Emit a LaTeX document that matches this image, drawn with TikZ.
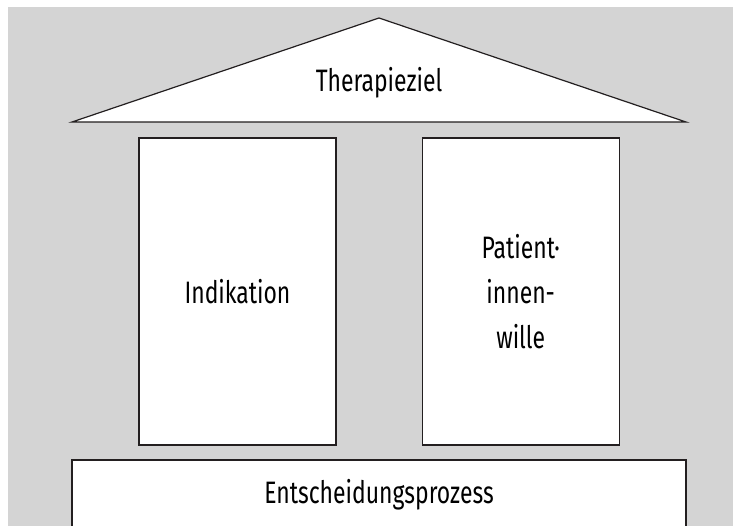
\documentclass[tikz,border=0pt]{standalone}
\usepackage{fontspec}
\setmainfont[FakeStretch=0.74]{Fira Sans}
\usepackage{tikz}
\usetikzlibrary{positioning}
\definecolor{hintergrund}{HTML}{D4D4D4}
\definecolor{linie}{HTML}{231F20}
\tikzstyle{saeule} = [rectangle, draw=linie, fill=white, line width=1.2pt,
    minimum width=197pt, minimum height=307pt, inner sep=0pt, text width=150pt,
    align=center, font=\fontsize{31}{45}\selectfont]
\tikzstyle{fundament} = [rectangle, draw=linie, fill=white, line width=1.2pt,
    minimum width=614pt, minimum height=70pt, inner sep=0pt,
    font=\fontsize{31}{34}\selectfont]
\tikzstyle{dach} = [draw=linie, fill=white, line width=1.2pt, line join=miter]

\begin{document}
\begin{tikzpicture}[x=1pt, y=1pt, node distance = 85pt]
        \useasboundingbox (0,0) rectangle (742,-526);
        \clip (0,0) rectangle (742,-526);
        \fill [hintergrund] (8,-7) rectangle (733,-530);
        % dach
        \coordinate (giebel) at (379,-18);
        \coordinate (traufeL) at (72,-122);
        \coordinate (traufeR) at (686,-122);
        \path [dach] (traufeL) -- (giebel) -- (traufeR) -- cycle;
        \node [font=\fontsize{31}{34}\selectfont] (ziel) at (379,-83) {Therapieziel};
        % saeulen
        \node [saeule] (indikation) at (237.5,-291.5) {Indikation};
        \node [saeule, right = of indikation] (wille) {Patient·\\innen-\\wille};
        % fundament
        \node [fundament] (prozess) at (379,-495) {Entscheidungsprozess};
    \end{tikzpicture}
\end{document}
